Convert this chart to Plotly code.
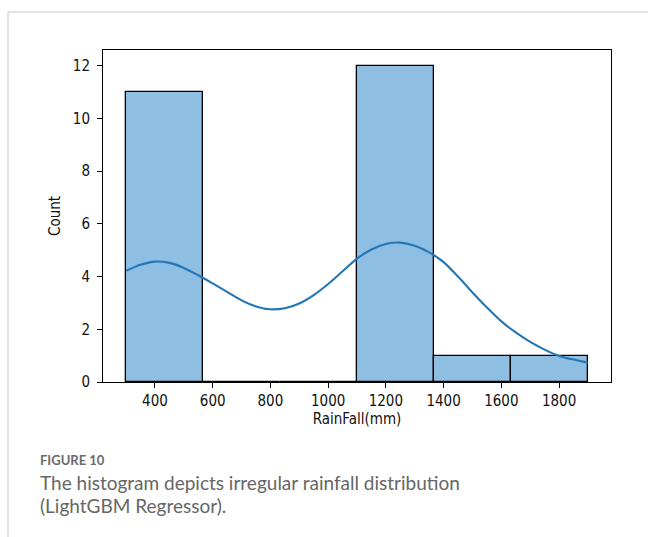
import plotly.graph_objects as go

# Histogram data (bin edges and counts)
bin_edges = [300, 566.67, 833.33, 1100, 1366.67, 1633.33, 1900]
counts = [11, 0, 0, 12, 1, 1]

# KDE curve (in count units)
kde_x = [300, 350, 400, 450, 500, 550, 600, 650, 700, 750, 800, 850, 900, 950, 1000, 1050,
         1100, 1150, 1200, 1250, 1300, 1350, 1400, 1450, 1500, 1550, 1600, 1650, 1700, 1750,
         1800, 1850, 1900]
kde_y = [4.22, 4.45, 4.57, 4.52, 4.33, 4.05, 3.74, 3.42, 3.1, 2.87, 2.76, 2.8, 2.98, 3.3, 3.72, 4.2,
         4.68, 5.03, 5.24, 5.29, 5.17, 4.92, 4.55, 4.0, 3.4, 2.83, 2.3, 1.88, 1.52, 1.23,
         0.99, 0.85, 0.73]

x_ticks = [400, 600, 800, 1000, 1200, 1400, 1600, 1800]
y_ticks = [0, 2, 4, 6, 8, 10, 12]

caption_label = "FIGURE 10"
caption_line1 = "The histogram depicts irregular rainfall distribution"
caption_line2 = "(LightGBM Regressor)."

centers = [(bin_edges[i] + bin_edges[i + 1]) / 2 for i in range(len(counts))]
widths = [bin_edges[i + 1] - bin_edges[i] for i in range(len(counts))]

fig = go.Figure()
fig.add_trace(go.Bar(
    x=centers, y=counts, width=widths,
    marker=dict(color="#8fbee3", line=dict(color="black", width=1.3)),
    hoverinfo="skip",
))
fig.add_trace(go.Scatter(
    x=kde_x, y=kde_y, mode="lines",
    line=dict(color="#2177b5", width=2.1, shape="spline", smoothing=0.8),
    hoverinfo="skip",
))

W, H = 648, 537
L, R, T, B = 103, 611, 50, 382

tick_font = dict(family="DejaVu Sans Condensed, DejaVu Sans", size=15, color="#111")
axis_common = dict(
    showline=True, linecolor="black", linewidth=1, mirror=True,
    ticks="outside", ticklen=5, tickwidth=1, tickcolor="black",
    showgrid=False, zeroline=False, automargin=False,
    tickfont=tick_font,
)

fig.update_layout(
    template="none",
    width=W, height=H,
    margin=dict(l=0, r=0, t=0, b=0, pad=0),
    paper_bgcolor="white", plot_bgcolor="white",
    showlegend=False,
    bargap=0,
    xaxis=dict(
        domain=[L / W, R / W], range=[220, 1980],
        tickvals=x_ticks, ticktext=[str(v) for v in x_ticks],
        title=dict(text="RainFall(mm)", font=tick_font, standoff=4),
        **axis_common,
    ),
    yaxis=dict(
        domain=[1 - B / H, 1 - T / H], range=[0, 12.6],
        tickvals=y_ticks, ticktext=[str(v) for v in y_ticks],
        ticklabelstandoff=4,
        title=dict(text="Count", font=tick_font, standoff=8),
        **axis_common,
    ),
    shapes=[
        dict(type="line", xref="paper", yref="paper", x0=8 / W, x1=1, y0=1 - 12 / H, y1=1 - 12 / H,
             line=dict(color="#d9d9d9", width=1.5)),
        dict(type="line", xref="paper", yref="paper", x0=8 / W, x1=8 / W, y0=0, y1=1 - 12 / H,
             line=dict(color="#d9d9d9", width=1.5)),
    ],
    annotations=[
        dict(text="<b>" + caption_label + "</b>", xref="paper", yref="paper", x=38 / W, y=1 - 460 / H,
             xanchor="left", yanchor="middle", showarrow=False,
             font=dict(family="Lato", size=13, color="#6a6a6a")),
        dict(text=caption_line1, xref="paper", yref="paper", x=38 / W, y=1 - 482 / H,
             xanchor="left", yanchor="middle", showarrow=False, align="left",
             font=dict(family="Lato", size=19, color="#666")),
        dict(text=caption_line2, xref="paper", yref="paper", x=38 / W, y=1 - 505 / H,
             xanchor="left", yanchor="middle", showarrow=False, align="left",
             font=dict(family="Lato", size=19, color="#666")),
    ],
)

fig.write_html("out.html")
